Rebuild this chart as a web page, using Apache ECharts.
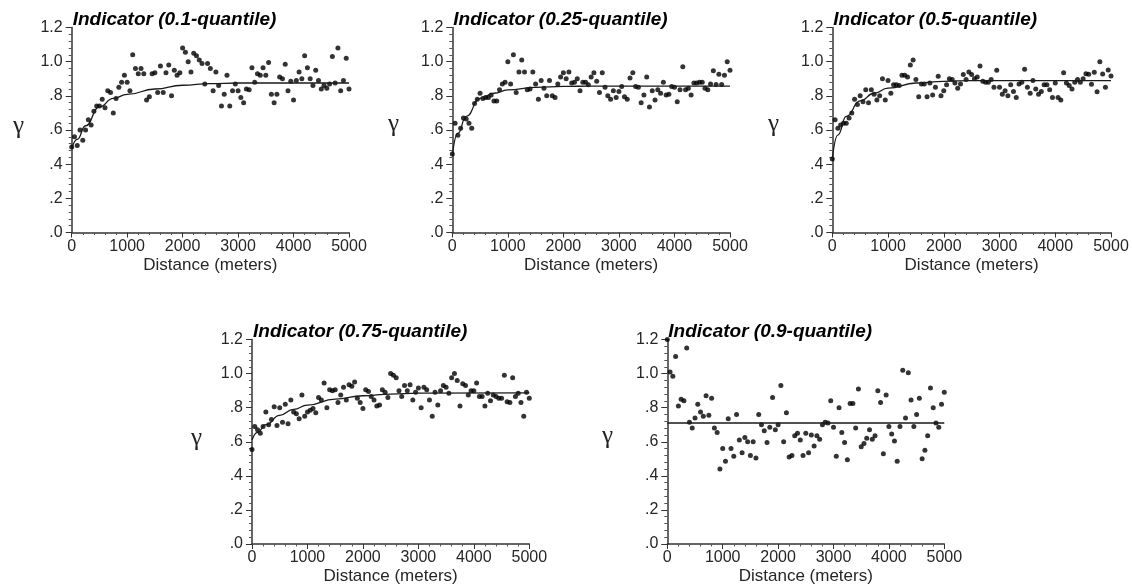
<!DOCTYPE html>
<html>
<head>
<meta charset="utf-8">
<title>Indicator variograms</title>
<script src="https://cdn.jsdelivr.net/npm/echarts@6/dist/echarts.min.js"></script>
<style>
  html, body { margin: 0; padding: 0; background: #ffffff; }
  #chart { width: 1132px; height: 586px; }
</style>
</head>
<body>
<div id="chart"></div>
<script>
// Lag distances (metres) of the experimental variogram points
const lags = [
  0, 50, 100, 150, 200, 250, 300, 350, 400, 450,
  500, 550, 600, 650, 700, 750, 800, 850, 900, 950,
  1000, 1050, 1100, 1150, 1200, 1250, 1300, 1350, 1400, 1450,
  1500, 1550, 1600, 1650, 1700, 1750, 1800, 1850, 1900, 1950,
  2000, 2050, 2100, 2150, 2200, 2250, 2300, 2350, 2400, 2450,
  2500, 2550, 2600, 2650, 2700, 2750, 2800, 2850, 2900, 2950,
  3000, 3050, 3100, 3150, 3200, 3250, 3300, 3350, 3400, 3450,
  3500, 3550, 3600, 3650, 3700, 3750, 3800, 3850, 3900, 3950,
  4000, 4050, 4100, 4150, 4200, 4250, 4300, 4350, 4400, 4450,
  4500, 4550, 4600, 4650, 4700, 4750, 4800, 4850, 4900, 4950,
  5000
];

// Experimental semivariance for each indicator threshold
const gammaQ10 = [
  0.50, 0.56, 0.51, 0.60, 0.54, 0.60, 0.66, 0.63, 0.71, 0.74,
  0.74, 0.78, 0.73, 0.83, 0.82, 0.70, 0.785, 0.85, 0.88, 0.92,
  0.88, 0.83, 1.04, 0.96, 0.93, 0.96, 0.93, 0.775, 0.795, 0.93,
  0.935, 0.82, 0.975, 0.82, 0.935, 0.98, 0.80, 0.95, 0.92, 0.935,
  1.08, 1.055, 1.0, 0.94, 1.05, 1.035, 1.01, 0.99, 0.87, 0.99,
  0.96, 0.83, 0.94, 0.86, 0.74, 0.81, 0.92, 0.74, 0.83, 0.87,
  0.83, 0.79, 0.76, 0.84, 0.835, 0.965, 0.88, 0.93, 0.92, 0.965,
  0.92, 0.995, 0.81, 0.76, 0.81, 0.91, 0.90, 0.985, 0.83, 0.885,
  0.775, 0.89, 0.94, 0.90, 1.035, 0.965, 0.90, 0.86, 0.95, 0.89,
  0.84, 0.86, 0.845, 0.87, 1.03, 0.875, 1.08, 0.83, 0.89, 1.02,
  0.84
];
const gammaQ25 = [
  0.46, 0.64, 0.57, 0.61, 0.67, 0.665, 0.64, 0.61, 0.755, 0.78,
  0.815, 0.785, 0.79, 0.79, 0.805, 0.77, 0.77, 0.835, 0.87, 0.88,
  1.0, 0.87, 1.04, 0.82, 0.94, 1.01, 0.94, 0.835, 0.84, 0.94,
  0.87, 0.78, 0.89, 0.845, 0.80, 0.89, 0.80, 0.79, 0.87, 0.91,
  0.935, 0.90, 0.94, 0.875, 0.88, 0.90, 0.83, 0.88, 0.88, 0.865,
  0.91, 0.935, 0.885, 0.82, 0.935, 0.85, 0.80, 0.78, 0.83, 0.79,
  0.825, 0.855, 0.795, 0.78, 0.905, 0.935, 0.855, 0.85, 0.76, 0.805,
  0.91, 0.735, 0.83, 0.775, 0.835, 0.815, 0.88, 0.805, 0.81, 0.855,
  0.85, 0.765, 0.835, 0.97, 0.835, 0.845, 0.805, 0.875, 0.875, 0.88,
  0.88, 0.845, 0.835, 0.87, 0.947, 0.867, 0.926, 0.867, 0.92, 1.0,
  0.95
];
const gammaQ50 = [
  0.43, 0.66, 0.61, 0.63, 0.64, 0.64, 0.67, 0.70, 0.78, 0.75,
  0.80, 0.765, 0.835, 0.76, 0.835, 0.81, 0.775, 0.80, 0.90, 0.775,
  0.89, 0.815, 0.865, 0.865, 0.86, 0.92, 0.92, 0.91, 0.98, 1.01,
  0.895, 0.795, 0.87, 0.87, 0.795, 0.875, 0.805, 0.85, 0.915, 0.80,
  0.83, 0.865, 0.90, 0.895, 0.875, 0.845, 0.87, 0.925, 0.895, 0.94,
  0.925, 0.90, 0.91, 0.975, 0.885, 0.88, 0.88, 0.895, 0.85, 0.95,
  0.85, 0.81, 0.83, 0.80, 0.865, 0.825, 0.79, 0.87, 0.88, 0.955,
  0.85, 0.815, 0.89, 0.84, 0.81, 0.825, 0.865, 0.865, 0.835, 0.79,
  0.875, 0.79, 0.775, 0.935, 0.875, 0.86, 0.84, 0.88, 0.895, 0.88,
  0.90, 0.93, 0.926, 0.868, 0.938, 0.824, 1.0, 0.928, 0.85, 0.951,
  0.916
];
const gammaQ75 = [
  0.555, 0.69, 0.67, 0.65, 0.69, 0.775, 0.70, 0.73, 0.805, 0.695,
  0.80, 0.715, 0.82, 0.705, 0.845, 0.775, 0.765, 0.735, 0.875, 0.75,
  0.775, 0.785, 0.795, 0.77, 0.86, 0.845, 0.945, 0.80, 0.905, 0.90,
  0.905, 0.83, 0.875, 0.92, 0.845, 0.935, 0.925, 0.95, 0.855, 0.83,
  0.795, 0.905, 0.895, 0.865, 0.845, 0.81, 0.815, 0.905, 0.89, 0.86,
  1.0, 0.99, 0.975, 0.90, 0.865, 0.93, 0.90, 0.935, 0.845, 0.89,
  0.915, 0.80, 0.92, 0.905, 0.845, 0.75, 0.89, 0.815, 0.90, 0.93,
  0.92, 0.885, 0.975, 1.0, 0.96, 0.81, 0.94, 0.93, 0.875, 0.90,
  0.90, 0.945, 0.865, 0.865, 0.81, 0.885, 0.84, 0.875, 0.865, 0.855,
  0.855, 0.99, 0.835, 0.83, 0.975, 0.865, 0.885, 0.83, 0.75, 0.89,
  0.855
];
const gammaQ90 = [
  1.2, 1.01, 0.985, 1.10, 0.81, 0.85, 0.84, 1.15, 0.715, 0.68,
  0.74, 0.82, 0.775, 0.75, 0.87, 0.755, 0.855, 0.68, 0.655, 0.44,
  0.56, 0.485, 0.735, 0.56, 0.515, 0.76, 0.61, 0.535, 0.625, 0.60,
  0.52, 0.60, 0.505, 0.76, 0.70, 0.665, 0.595, 0.685, 0.86, 0.67,
  0.70, 0.93, 0.60, 0.77, 0.51, 0.52, 0.635, 0.65, 0.61, 0.52,
  0.65, 0.535, 0.64, 0.575, 0.635, 0.615, 0.70, 0.715, 0.71, 0.84,
  0.685, 0.515, 0.80, 0.655, 0.595, 0.495, 0.825, 0.825, 0.68, 0.91,
  0.57, 0.59, 0.62, 0.67, 0.615, 0.635, 0.90, 0.83, 0.53, 0.875,
  0.69, 0.645, 0.605, 0.485, 0.69, 1.02, 0.74, 1.005, 0.845, 0.69,
  0.76, 0.855, 0.50, 0.55, 0.635, 0.915, 0.80, 0.71, 0.685, 0.82,
  0.89
];

// Fitted variogram models, sampled at these distances
const fitLags = [0, 100, 250, 500, 750, 1000, 1500, 2000, 2500, 3000, 5000];
const fitQ10 = [0.49, 0.545, 0.625, 0.735, 0.785, 0.808, 0.84, 0.862, 0.872, 0.875, 0.875];
const fitQ25 = [0.45, 0.58, 0.68, 0.785, 0.815, 0.835, 0.85, 0.855, 0.857, 0.857, 0.857];
const fitQ50 = [0.43, 0.57, 0.68, 0.77, 0.815, 0.845, 0.875, 0.885, 0.889, 0.889, 0.889];
const fitQ75 = [0.61, 0.655, 0.70, 0.755, 0.79, 0.815, 0.85, 0.87, 0.88, 0.885, 0.887];
const fitQ90 = [0.71, 0.71, 0.71, 0.71, 0.71, 0.71, 0.71, 0.71, 0.71, 0.71, 0.71];

const panelTitles = [
  'Indicator (0.1-quantile)',
  'Indicator (0.25-quantile)',
  'Indicator (0.5-quantile)',
  'Indicator (0.75-quantile)',
  'Indicator (0.9-quantile)'
];
const yTickLabels = ['.0', '.2', '.4', '.6', '.8', '1.0', '1.2'];
const xTickLabels = ['0', '1000', '2000', '3000', '4000', '5000'];
const xAxisTitle = 'Distance (meters)';
const yAxisTitle = 'γ';

const gammaSets = [gammaQ10, gammaQ25, gammaQ50, gammaQ75, gammaQ90];
const fitSets = [fitQ10, fitQ25, fitQ50, fitQ75, fitQ90];

// Panel placement in pixels
const PLOT_H = 205;
const frames = [
  { left: 71.7,  top: 27.5,  width: 277.3, gx: 20,  gy: 128 },
  { left: 452.3, top: 27.5,  width: 277.7, gx: 395, gy: 126 },
  { left: 832.3, top: 27.5,  width: 278.7, gx: 775, gy: 126 },
  { left: 252,   top: 339.5, width: 277.3, gx: 198, gy: 440 },
  { left: 667.3, top: 339.5, width: 277,   gx: 609, gy: 438 }
];

const FONT = '"Liberation Sans", Arial, Helvetica, sans-serif';
const AXIS_COLOR = '#333333';
const TEXT_COLOR = '#262626';

const grid = [], xAxis = [], yAxis = [], series = [], title = [], graphic = [];

frames.forEach((f, i) => {
  grid.push({ left: f.left, top: f.top, width: f.width, height: PLOT_H, containLabel: false });

  xAxis.push({
    type: 'value', gridIndex: i, min: 0, max: 5000, interval: 1000,
    name: xAxisTitle, nameLocation: 'middle', nameGap: 24,
    nameTextStyle: { fontFamily: FONT, fontSize: 17, color: TEXT_COLOR },
    axisLine: { show: true, onZero: false, lineStyle: { color: AXIS_COLOR, width: 1.5 } },
    axisTick: { show: true, length: 5, lineStyle: { color: AXIS_COLOR, width: 1 } },
    minorTick: { show: true, splitNumber: 5, length: 2.5, lineStyle: { color: '#555', width: 1 } },
    splitLine: { show: false },
    axisLabel: {
      fontFamily: FONT, fontSize: 16, color: TEXT_COLOR, margin: 6,
      formatter: v => xTickLabels[Math.round(v / 1000)]
    }
  });

  yAxis.push({
    type: 'value', gridIndex: i, min: 0, max: 1.2, interval: 0.2,
    axisLine: { show: true, onZero: false, lineStyle: { color: AXIS_COLOR, width: 1.5 } },
    axisTick: { show: true, length: 6, lineStyle: { color: AXIS_COLOR, width: 1 } },
    minorTick: { show: true, splitNumber: 5, length: 3, lineStyle: { color: '#555', width: 1 } },
    splitLine: { show: false },
    axisLabel: {
      fontFamily: FONT, fontSize: 16, color: TEXT_COLOR, margin: 9,
      verticalAlign: 'middle', padding: [0, 0, 11, 0],
      formatter: v => yTickLabels[Math.round(v / 0.2)]
    }
  });

  series.push({
    type: 'scatter', xAxisIndex: i, yAxisIndex: i,
    symbol: 'circle', symbolSize: 5,
    itemStyle: { color: '#000000' },
    clip: false,
    data: lags.map((d, k) => [d, gammaSets[i][k]])
  });

  series.push({
    type: 'line', xAxisIndex: i, yAxisIndex: i,
    showSymbol: false, symbol: 'none',
    smooth: 0.5, smoothMonotone: 'x',
    lineStyle: { color: '#1a1a1a', width: 1.3 },
    data: fitLags.map((d, k) => [d, fitSets[i][k]]),
    z: 3
  });

  title.push({
    text: panelTitles[i], left: f.left + 1, top: f.top - 17.5, padding: 0,
    textStyle: { fontFamily: FONT, fontSize: 19, fontStyle: 'italic', fontWeight: 'bold', color: '#000000' }
  });

  graphic.push({
    type: 'text', left: f.gx - 7, top: f.gy - 14,
    style: { text: yAxisTitle, font: '25px "Liberation Serif", "Times New Roman", serif', fill: '#222222' }
  });
});

const chart = echarts.init(document.getElementById('chart'), null, { renderer: 'canvas' });
chart.setOption({
  backgroundColor: '#ffffff',
  animation: false,
  title, grid, xAxis, yAxis, series, graphic
});
</script>
</body>
</html>
